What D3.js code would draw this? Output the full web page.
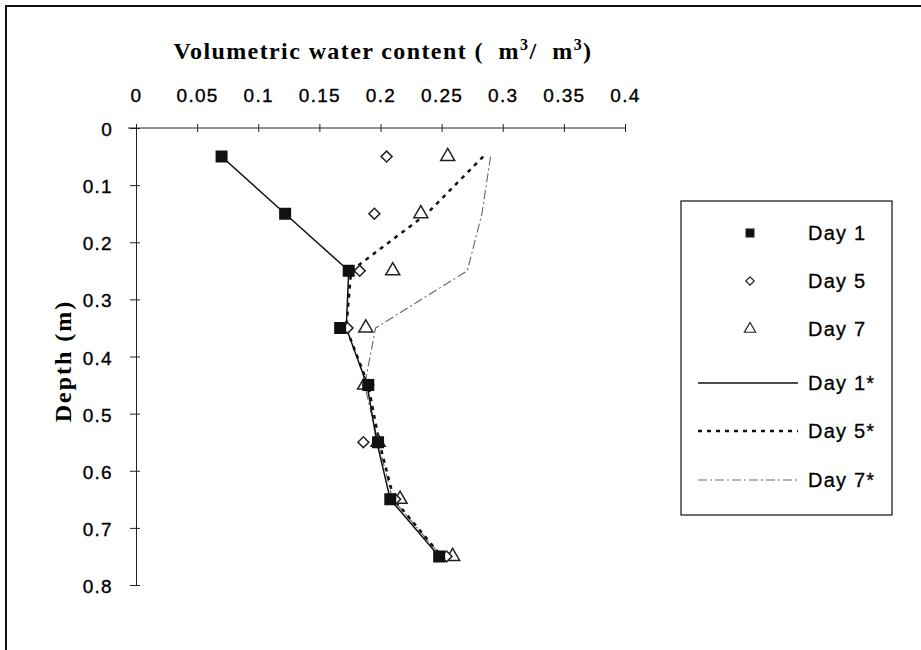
<!DOCTYPE html>
<html>
<head>
<meta charset="utf-8">
<script src="https://cdn.jsdelivr.net/npm/d3@7"></script>
<style>
  body { margin: 0; background: #fff; }
  svg { display: block; }
  .tick text { font-family: "Liberation Sans", Arial, sans-serif; font-size: 19px; letter-spacing: 1.3px; fill: #000; stroke: #000; stroke-width: 0.35px; }
  .axis path, .axis line { stroke: #222; }
  .leg { font-family: "Liberation Sans", Arial, sans-serif; font-size: 20px; letter-spacing: 1.2px; fill: #000; stroke: #000; stroke-width: 0.3px; }
</style>
</head>
<body>
<svg width="921" height="650"></svg>
<script>
// depth (m) of each sample
var depths = [0.05, 0.15, 0.25, 0.35, 0.45, 0.55, 0.65, 0.75];

// measured volumetric water content (markers)
var day1 = [0.070, 0.122, 0.174, 0.167, 0.190, 0.198, 0.208, 0.248];
var day5 = [0.205, 0.195, 0.183, 0.173, 0.190, 0.186, 0.212, 0.254];
var day7 = [0.255, 0.233, 0.210, 0.188, 0.187, 0.198, 0.216, 0.259];

// simulated (lines)
var day1Sim = [0.070, 0.122, 0.174, 0.172, 0.189, 0.197, 0.208, 0.248];
var day5Sim = [0.284, 0.238, 0.176, 0.172, 0.190, 0.199, 0.211, 0.250];
var day7Sim = [0.290, 0.283, 0.271, 0.196, 0.187, 0.198, 0.210, 0.250];

var xTicks = [0, 0.05, 0.1, 0.15, 0.2, 0.25, 0.3, 0.35, 0.4];
var yTicks = [0, 0.1, 0.2, 0.3, 0.4, 0.5, 0.6, 0.7, 0.8];

var svg = d3.select("svg");

// scanned frame (only top and left edges visible)
svg.append("path")
    .attr("d", "M6,650 L6,6 L921,6")
    .attr("fill", "none")
    .attr("stroke", "#111")
    .attr("stroke-width", 2);

var x = d3.scaleLinear().domain([0, 0.4]).range([136, 625]);
var y = d3.scaleLinear().domain([0, 0.8]).range([128, 585]);

// top axis
var xAxis = svg.append("g")
    .attr("class", "axis")
    .attr("transform", "translate(0," + y(0) + ")")
    .call(d3.axisTop(x).tickValues(xTicks).tickFormat(d3.format("")).tickSizeInner(4).tickSizeOuter(0).tickPadding(22));
xAxis.selectAll(".tick line").attr("y2", 4).attr("y1", -4);
xAxis.select(".domain").attr("d", "M" + (x(0) - 8) + ",0H" + x(0.4));

// left axis
var yAxis = svg.append("g")
    .attr("class", "axis")
    .attr("transform", "translate(" + x(0) + ",0)")
    .call(d3.axisLeft(y).tickValues(yTicks).tickFormat(d3.format("")).tickSizeInner(5).tickSizeOuter(0).tickPadding(18));
yAxis.selectAll(".tick line").attr("x1", -6).attr("x2", 4);
yAxis.selectAll(".tick text").attr("dy", "0.4em");

// titles
svg.append("text")
    .attr("x", 383).attr("y", 59)
    .attr("text-anchor", "middle")
    .style("font-family", "'Liberation Serif', 'Times New Roman', serif")
    .style("font-weight", "bold")
    .style("font-size", "24px")
    .style("letter-spacing", "1.4px")
    .html("Volumetric water content (&#160; m<tspan dy='-9' font-size='16px'>3</tspan><tspan dy='9'>/&#160; m</tspan><tspan dy='-9' font-size='16px'>3</tspan><tspan dy='9'>)</tspan>");

svg.append("text")
    .attr("transform", "translate(71,361) rotate(-90)")
    .attr("text-anchor", "middle")
    .style("font-family", "'Liberation Serif', 'Times New Roman', serif")
    .style("font-weight", "bold")
    .style("font-size", "24px")
    .style("letter-spacing", "2px")
    .text("Depth (m)");

function pts(vals) {
    return vals.map(function(v, i) { return [v, depths[i]]; });
}

var line = d3.line()
    .x(function(d) { return x(d[0]); })
    .y(function(d) { return y(d[1]); });

var lineStyles = [
    { name: "Day 1*", vals: day1Sim, stroke: "#111", width: 1.5, dash: null },
    { name: "Day 5*", vals: day5Sim, stroke: "#111", width: 2.5, dash: "4,5" },
    { name: "Day 7*", vals: day7Sim, stroke: "#666", width: 1.1, dash: "9,3,2,3" }
];

lineStyles.slice().reverse().forEach(function(s) {
    svg.append("path")
        .datum(pts(s.vals))
        .attr("fill", "none")
        .attr("stroke", s.stroke)
        .attr("stroke-width", s.width)
        .attr("stroke-dasharray", s.dash)
        .attr("d", line);
});

var sq = d3.symbol().type(d3.symbolSquare).size(110);
var dia = d3.symbol().type(d3.symbolSquare).size(60);   // rotated 45deg below
var tri = d3.symbol().type(d3.symbolTriangle).size(85);

var markerSets = [
    { name: "Day 7", vals: day7, sym: tri, rot: 0, fill: "#fff", stroke: "#222" },
    { name: "Day 5", vals: day5, sym: dia, rot: 45, fill: "#fff", stroke: "#222" },
    { name: "Day 1", vals: day1, sym: sq, rot: 0, fill: "#111", stroke: "#111" }
];

markerSets.forEach(function(m) {
    svg.append("g").selectAll("path")
        .data(pts(m.vals))
        .join("path")
        .attr("transform", function(d) { return "translate(" + x(d[0]) + "," + y(d[1]) + ") rotate(" + m.rot + ")"; })
        .attr("d", m.sym)
        .attr("fill", m.fill)
        .attr("stroke", m.stroke)
        .attr("stroke-width", 1.5);
});

// legend
var legend = svg.append("g");
legend.append("rect")
    .attr("x", 681).attr("y", 201)
    .attr("width", 211).attr("height", 314)
    .attr("fill", "#fff")
    .attr("stroke", "#222")
    .attr("stroke-width", 1.3);

var legendY = [233, 281, 329, 383, 431, 480];
var legendItems = [markerSets[2], markerSets[1], markerSets[0]];
var legendSizes = [60, 35, 55];
legendItems.forEach(function(m, i) {
    legend.append("path")
        .attr("transform", "translate(750," + legendY[i] + ") rotate(" + m.rot + ")")
        .attr("d", m.sym.size(legendSizes[i])())
        .attr("fill", m.fill)
        .attr("stroke", m.stroke)
        .attr("stroke-width", 1.2);
    legend.append("text")
        .attr("class", "leg")
        .attr("x", 808).attr("y", legendY[i] + 7)
        .text(m.name);
});
lineStyles.forEach(function(s, i) {
    var yy = legendY[i + 3];
    legend.append("line")
        .attr("x1", 698).attr("x2", 798)
        .attr("y1", yy).attr("y2", yy)
        .attr("stroke", s.stroke)
        .attr("stroke-width", s.width)
        .attr("stroke-dasharray", s.dash);
    legend.append("text")
        .attr("class", "leg")
        .attr("x", 808).attr("y", yy + 7)
        .text(s.name);
});
</script>
</body>
</html>
